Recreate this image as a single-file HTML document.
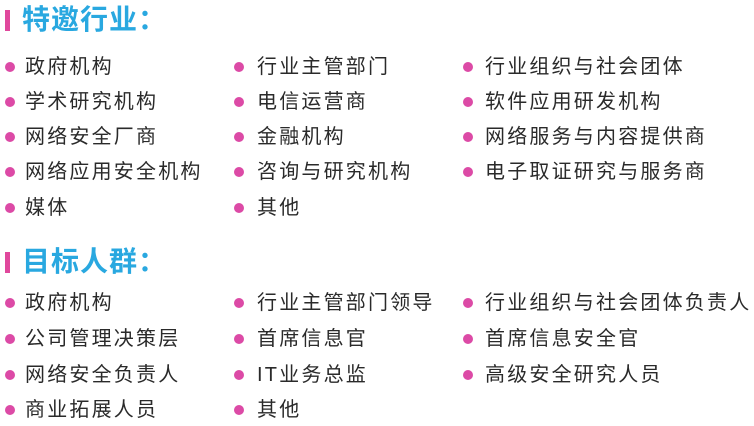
<!DOCTYPE html>
<html><head><meta charset="utf-8"><style>
body{margin:0;width:754px;height:426px;background:#fff;position:relative;overflow:hidden;font-family:"Liberation Sans","Noto Sans CJK SC",sans-serif;}
.h{position:absolute;left:22px;font-size:28px;font-weight:bold;color:#29a8e0;line-height:30px;letter-spacing:1px}
.bar{position:absolute;left:5px;width:5px;height:21px;background:#e0489c}
.i{position:absolute;font-size:20px;color:#2a2a2a;letter-spacing:2.2px;line-height:24px;white-space:nowrap}
.d{position:absolute;width:10px;height:10px;border-radius:50%;background:#dc4aa6}
</style></head><body>
<div class="bar" style="top:10px"></div><div class="h" style="top:5px">特邀行业：</div>
<div class="bar" style="top:252px"></div><div class="h" style="top:247px">目标人群：</div>
<div id="c"></div>
<script>
const rows=[
[67,["政府机构","行业主管部门","行业组织与社会团体"]],
[102,["学术研究机构","电信运营商","软件应用研发机构"]],
[137,["网络安全厂商","金融机构","网络服务与内容提供商"]],
[172,["网络应用安全机构","咨询与研究机构","电子取证研究与服务商"]],
[208,["媒体","其他"]],
[303,["政府机构","行业主管部门领导","行业组织与社会团体负责人"]],
[339,["公司管理决策层","首席信息官","首席信息安全官"]],
[375,["网络安全负责人","IT业务总监","高级安全研究人员"]],
[410,["商业拓展人员","其他"]]];
const bx=[5,234,463],tx=[25,257,485];let h="";
for(const [y,items] of rows)items.forEach((t,k)=>{h+=`<div class="d" style="left:${bx[k]}px;top:${y-5}px"></div><div class="i" style="left:${tx[k]}px;top:${y-12}px">${t}</div>`});
document.getElementById("c").innerHTML=h;
</script>
</body></html>
